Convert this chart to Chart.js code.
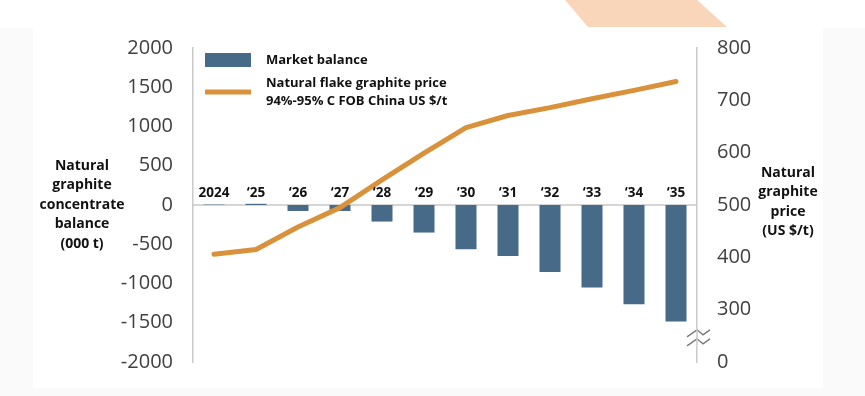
<!DOCTYPE html>
<html>
<head>
<meta charset="utf-8">
<script src="https://cdn.jsdelivr.net/npm/chart.js@4.4.1/dist/chart.umd.min.js"></script>
<style>
  html, body { margin: 0; padding: 0; background: #fff; }
  #wrap { width: 865px; height: 396px; position: relative; }
</style>
</head>
<body>
<div id="wrap"><canvas id="graphiteChart"></canvas></div>
<script>
// Data
const years = ["2024", "\u201825", "\u201826", "\u201827", "\u201828", "\u201829", "\u201830", "\u201831", "\u201832", "\u201833", "\u201834", "\u201835"];
const marketBalance = [5, 15, -76, -76, -211, -351, -564, -649, -852, -1051, -1263, -1484];
const flakePrice = [406, 415, 458, 495, 548, 599, 648, 671, 686, 703, 719, 736];
const balanceTicks = { min: -2000, max: 2000, step: 500 };
const priceTicks = { min: 200, max: 800, step: 100 };   // 200 sits on the broken part, shown as "0"

const BLUE = "#476a89";
const ORANGE = "#d9913b";
const AXIS_GREY = "#c9c9c9";
const TXT = "#111";
const FONT = "'Open Sans', 'DejaVu Sans', sans-serif";

// background panel, peach corner shape, zero line, labels, titles, legend, axis break
const decorations = {
  id: "decorations",
  beforeDraw(chart) {
    const ctx = chart.ctx;
    ctx.save();
    ctx.fillStyle = "#fafafa";
    ctx.fillRect(0, 28, chart.width, chart.height - 28);
    ctx.fillStyle = "#fff";
    ctx.fillRect(33, 28, 790, 360);
    ctx.fillStyle = "#f9d5ba";
    ctx.beginPath();
    ctx.moveTo(565, 0); ctx.lineTo(697, 0); ctx.lineTo(727, 27); ctx.lineTo(588, 27);
    ctx.closePath();
    ctx.fill();
    ctx.restore();
  },
  beforeDatasetsDraw(chart) {
    const { ctx, chartArea } = chart;
    const y0 = chart.scales.y.getPixelForValue(0);
    ctx.save();
    ctx.strokeStyle = AXIS_GREY;
    ctx.lineWidth = 1.5;
    ctx.beginPath();
    ctx.moveTo(chartArea.left, y0);
    ctx.lineTo(chartArea.right, y0);
    ctx.stroke();
    ctx.restore();
  },
  afterDraw(chart) {
    const { ctx, chartArea } = chart;
    const xs = chart.scales.x, ys = chart.scales.y, yp = chart.scales.y1;
    const y0 = ys.getPixelForValue(0);
    ctx.save();
    ctx.fillStyle = TXT;
    ctx.textBaseline = "middle";

    // category labels sit just above the zero line
    ctx.font = "bold 13.5px " + FONT;
    ctx.textAlign = "center";
    years.forEach((lab, i) => ctx.fillText(lab, xs.getPixelForValue(i), y0 - 12));

    // axis titles
    ctx.font = "bold 14px " + FONT;
    const leftTitle = ["Natural", "graphite", "concentrate", "balance", "(000 t)"];
    leftTitle.forEach((t, i) => ctx.fillText(t, 82, y0 + (i - 2) * 19.5));
    const rightTitle = ["Natural", "graphite", "price", "(US $/t)"];
    const ym = yp.getPixelForValue(500) - 3;
    rightTitle.forEach((t, i) => ctx.fillText(t, 788, ym + (i - 1.5) * 19.5));

    // legend inside the plot, top-left
    const lx = chartArea.left + 12, ly = chartArea.top + 5;
    const ds = chart.data.datasets;
    ctx.fillStyle = ds[0].backgroundColor;
    ctx.fillRect(lx, ly, 46, 14);
    ctx.strokeStyle = ds[1].borderColor;
    ctx.lineWidth = 5;
    ctx.beginPath();
    ctx.moveTo(lx, ly + 39); ctx.lineTo(lx + 46, ly + 39);
    ctx.stroke();
    ctx.fillStyle = TXT;
    ctx.textAlign = "left";
    ctx.font = "bold 13px " + FONT;
    ctx.fillText(ds[0].label, lx + 61, ly + 7);
    ds[1].label.forEach((t, i) => ctx.fillText(t, lx + 61, ly + 30 + i * 18));

    // axis break on the price axis
    const bx = chartArea.right;
    const by = yp.getPixelForValue(250);
    ctx.fillStyle = "#fff";
    ctx.fillRect(bx - 11, by - 8, 22, 18);
    ctx.strokeStyle = "#7a7a7a";
    ctx.lineWidth = 1.4;
    [by - 3, by + 6].forEach(yy => {
      ctx.beginPath();
      ctx.moveTo(bx - 10, yy + 4);
      ctx.lineTo(bx, yy - 3);
      ctx.lineTo(bx + 6, yy + 2);
      ctx.lineTo(bx + 13, yy - 3);
      ctx.stroke();
    });
    ctx.strokeStyle = AXIS_GREY;
    ctx.lineWidth = 1.5;
    ctx.beginPath();
    ctx.moveTo(bx, by - 8); ctx.lineTo(bx, by + 10);
    ctx.stroke();
    ctx.restore();
  }
};

const canvas = document.getElementById("graphiteChart");
new Chart(canvas, {
  data: {
    labels: years,
    datasets: [{
      type: "bar",
      label: "Market balance",
      data: marketBalance,
      yAxisID: "y",
      backgroundColor: BLUE,
      barPercentage: 0.5,
      categoryPercentage: 1.0,
      order: 1
    }, {
      type: "line",
      label: ["Natural flake graphite price", "94%-95% C FOB China US $/t"],
      data: flakePrice,
      yAxisID: "y1",
      borderColor: ORANGE,
      borderWidth: 5,
      borderCapStyle: "round",
      borderJoinStyle: "round",
      pointRadius: 0,
      tension: 0,
      order: 0
    }]
  },
  options: {
    responsive: true,
    maintainAspectRatio: false,
    animation: false,
    layout: { padding: { left: 110, right: 108, top: 48, bottom: 34 } },
    plugins: { legend: { display: false }, tooltip: { enabled: false } },
    scales: {
      x: { type: "category", offset: true, display: false },
      y: {
        position: "left",
        min: balanceTicks.min, max: balanceTicks.max,
        ticks: {
          stepSize: balanceTicks.step, color: "#404040", padding: 20, font: { family: FONT, size: 20 },
          callback: v => String(v)
        },
        grid: { display: false, drawTicks: false },
        border: { color: AXIS_GREY, width: 1.5 },
        afterFit(s) { s.width = 83; s.paddingTop = 0; s.paddingBottom = 0; }
      },
      y1: {
        position: "right",
        min: priceTicks.min, max: priceTicks.max,
        ticks: {
          stepSize: priceTicks.step, color: "#404040", padding: 20, font: { family: FONT, size: 20 },
          callback: v => v === priceTicks.min ? "0" : String(v)
        },
        grid: { display: false, drawTicks: false },
        border: { color: AXIS_GREY, width: 1.5 },
        afterFit(s) { s.width = 60; s.paddingTop = 0; s.paddingBottom = 0; }
      }
    }
  },
  plugins: [decorations]
});
</script>
</body>
</html>
